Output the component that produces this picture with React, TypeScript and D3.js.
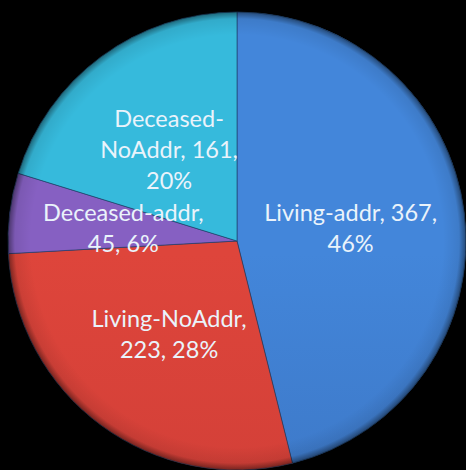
import React from "react";
import * as d3 from "d3";

const categories = ["Living-addr", "Living-NoAddr", "Deceased-addr", "Deceased-NoAddr"];
const values = [367, 223, 45, 161];
const percents = ["46%", "28%", "6%", "20%"];
// how each data label wraps, as in the reference
const labelLines = [
  ["Living-addr, 367,", "46%"],
  ["Living-NoAddr,", "223, 28%"],
  ["Deceased-addr,", "45, 6%"],
  ["Deceased-", "NoAddr, 161,", "20%"],
];
const colorsTop = ["#4386da", "#de453b", "#8660c2", "#36badc"];
const colorsBottom = ["#386db8", "#c93b35", "#6e48a6", "#1f97b8"];

const W = 466;
const H = 470;
const cx = 237;
const cy = 241;
const R = 229;

export default function App() {
  const pie = d3.pie<number>().sort(null).value((d) => d);
  const arcs = pie(values);
  const arc = d3.arc<d3.PieArcDatum<number>>().innerRadius(0).outerRadius(R);
  const fontSize = 23.5;
  const lineH = 31;
  return (
    <svg
      width={W}
      height={H}
      style={{ position: "fixed", left: 0, top: 0, background: "#000", display: "block" }}
    >
      <defs>
        {arcs.map((a, i) => (
          <linearGradient key={i} id={`g${i}`} gradientUnits="userSpaceOnUse" x1={0} y1={cy - R} x2={0} y2={cy + R}>
            <stop offset="0" stopColor={colorsTop[i]} />
            <stop offset="1" stopColor={colorsBottom[i]} />
          </linearGradient>
        ))}
        <radialGradient id="rim" gradientUnits="userSpaceOnUse" cx={cx} cy={cy} r={R}>
          <stop offset="0.9" stopColor="#000" stopOpacity={0} />
          <stop offset="0.97" stopColor="#000" stopOpacity={0.08} />
          <stop offset="1" stopColor="#000" stopOpacity={0.45} />
        </radialGradient>
      </defs>
      <rect width={W} height={H} fill="#000" />
      <g transform={`translate(${cx},${cy})`}>
        {arcs.map((a, i) => (
          <path key={categories[i]} d={arc(a) || ""} fill={`url(#g${i})`} stroke="#1d3d66" strokeOpacity={0.6} strokeWidth={1} />
        ))}
        <circle r={R} fill="url(#rim)" transform={`translate(${-cx},${-cy})`} cx={cx} cy={cy} />
        {arcs.map((a, i) => {
          const [x, y] = arc.centroid(a);
          const lines = labelLines[i];
          const y0 = y - ((lines.length - 1) * lineH) / 2;
          return (
            <text
              key={"t" + i}
              x={x}
              y={y0}
              textAnchor="middle"
              dominantBaseline="central"
              fill="#eaf3fb"
              fontFamily="Lato, 'Noto Sans', sans-serif"
              fontSize={fontSize}
            >
              {lines.map((l, j) => (
                <tspan key={j} x={x} y={y0 + j * lineH}>
                  {l}
                </tspan>
              ))}
            </text>
          );
        })}
      </g>
    </svg>
  );
}
